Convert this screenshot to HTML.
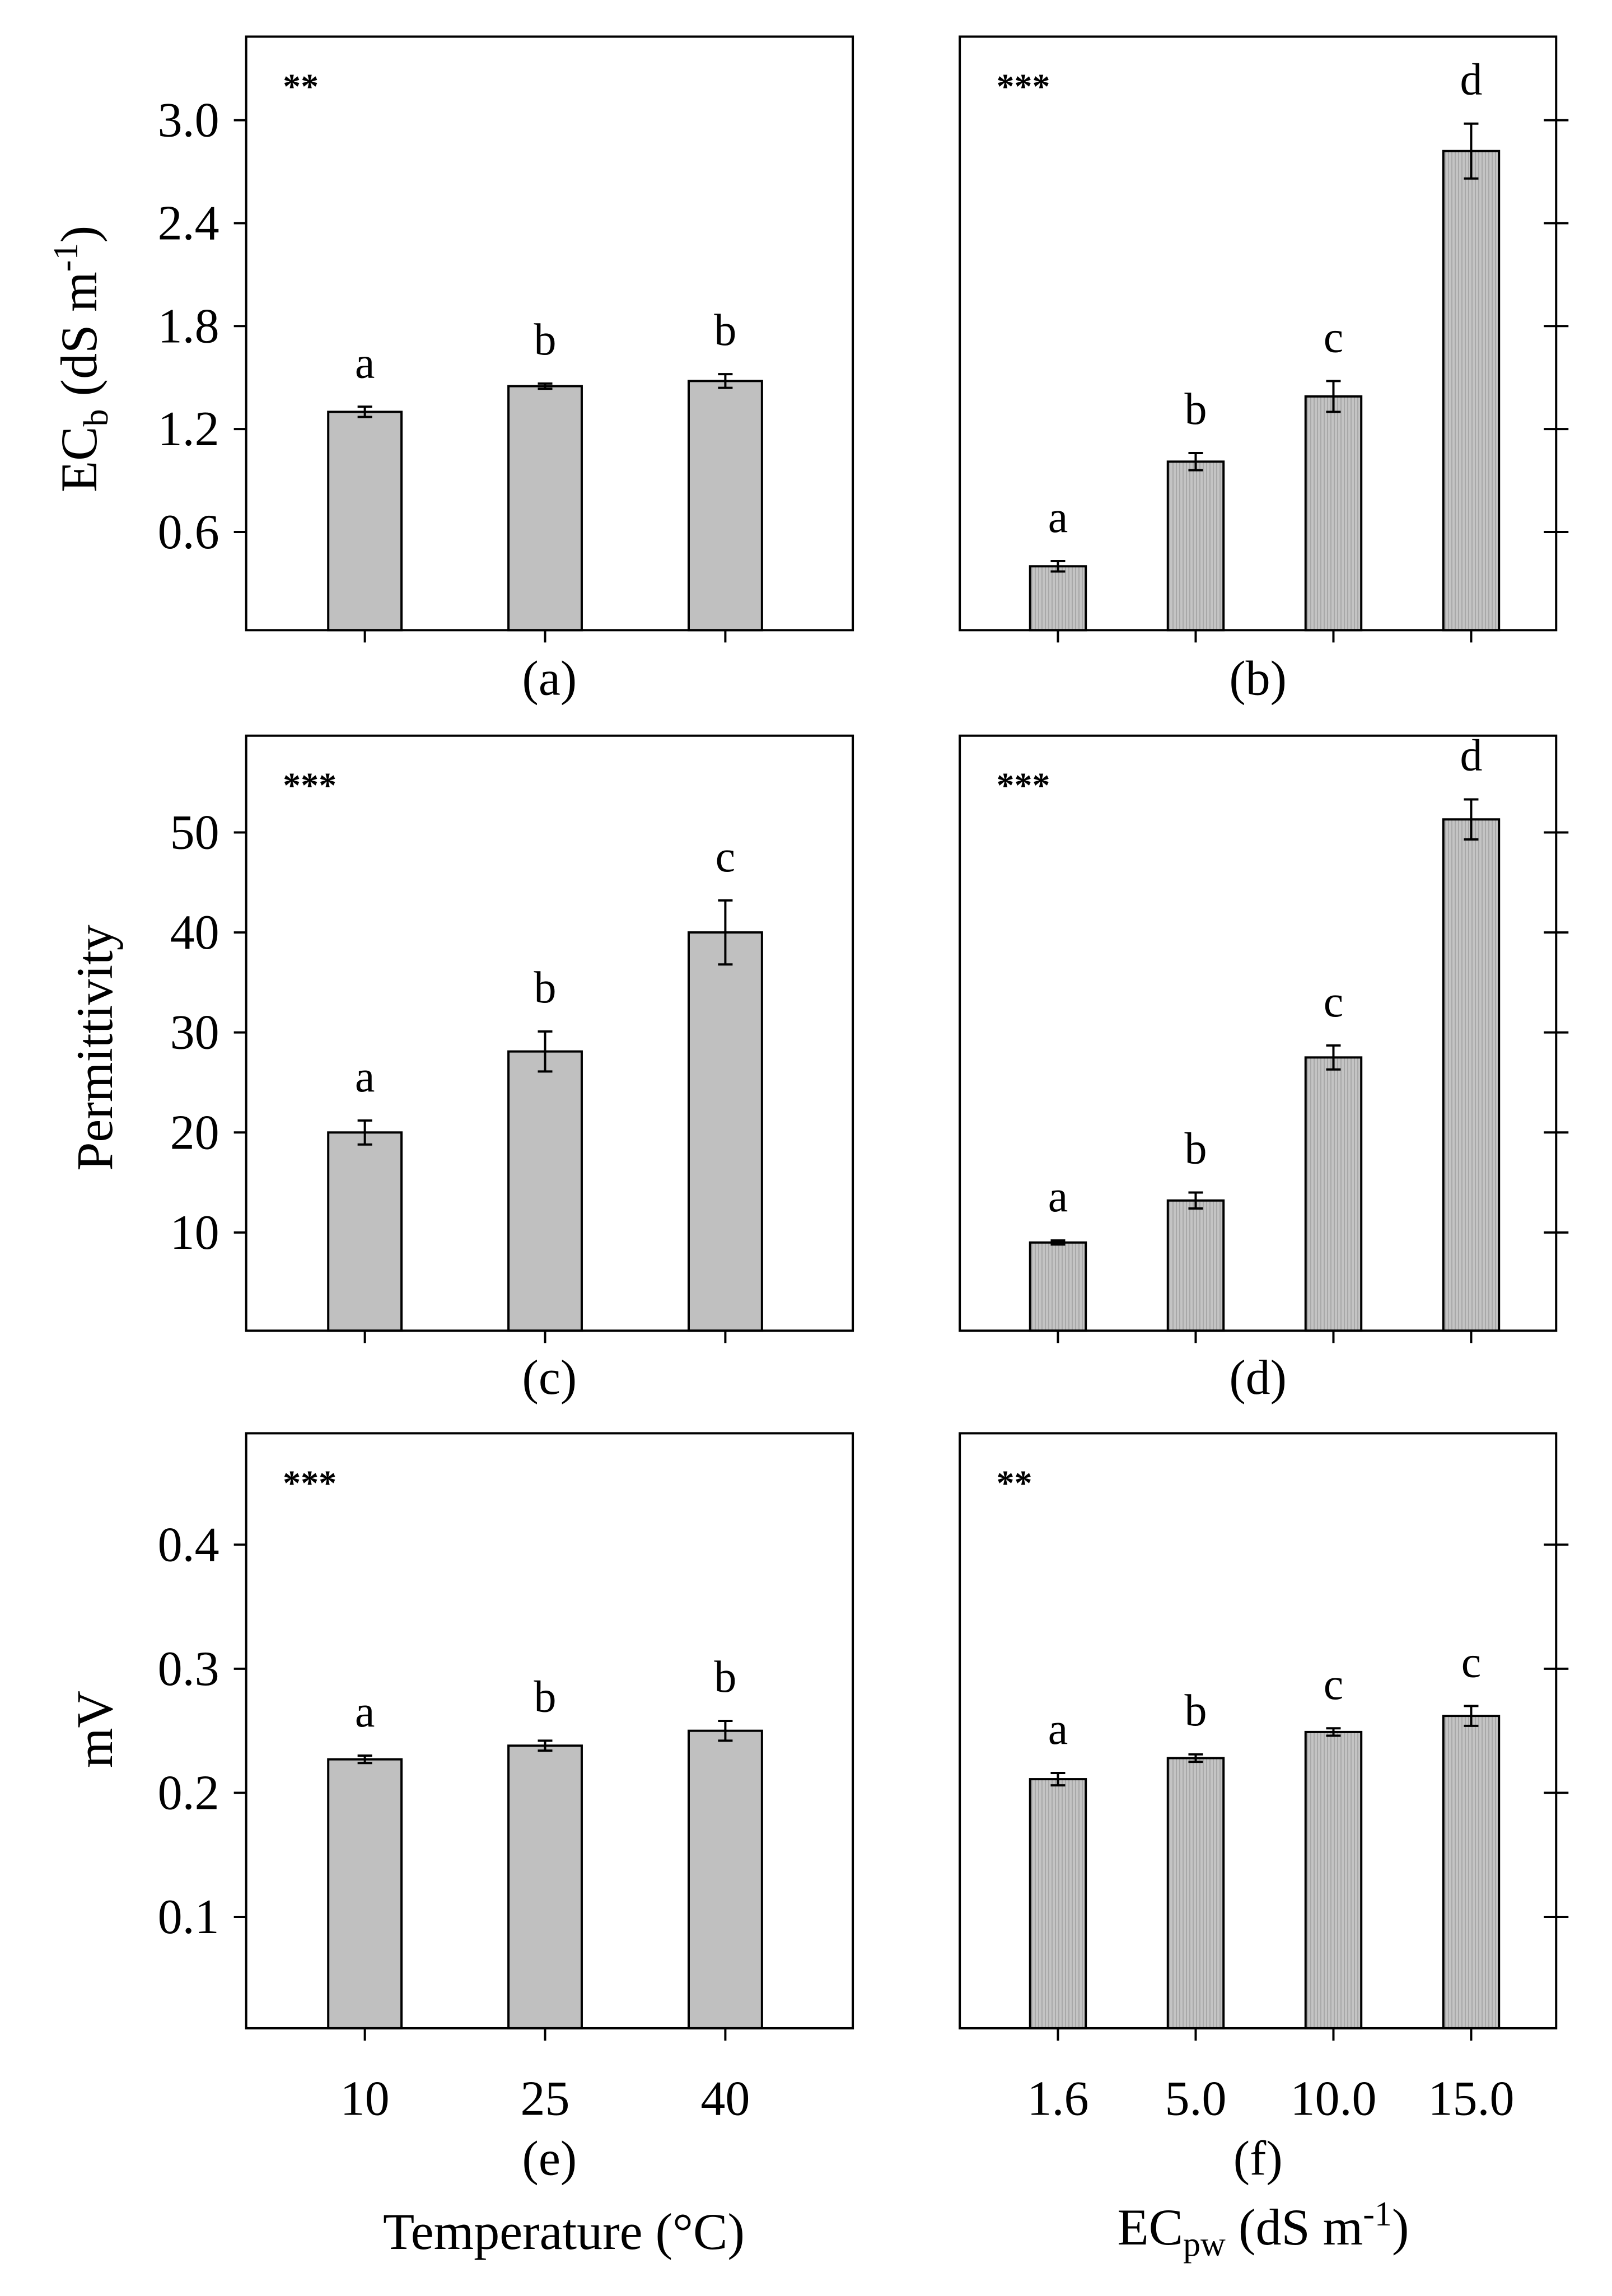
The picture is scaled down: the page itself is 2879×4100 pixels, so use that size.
<!DOCTYPE html>
<html><head><meta charset="utf-8"><style>
html,body{margin:0;padding:0;background:#fff}
svg{display:block}
text{font-family:"Liberation Serif",serif;fill:#000}
</style></head><body>
<svg id="fig" width="2879" height="4100" viewBox="0 0 2879 4100" xmlns="http://www.w3.org/2000/svg">
<defs>
<pattern id="hatch" width="6" height="10" patternUnits="userSpaceOnUse">
<rect width="6" height="10" fill="#c4c4c4"/><rect width="2" height="10" fill="#a8a8a8"/>
</pattern>
</defs>
</svg>
<script>
// data
const tempCats = ["10","25","40"];
const ecCats = ["1.6","5.0","10.0","15.0"];
const aVals = [1.30,1.45,1.48];   const aErr = [0.03,0.015,0.04];  const aLet = ["a","b","b"];
const bVals = [0.40,1.01,1.39,2.82]; const bErr = [0.03,0.05,0.09,0.16]; const bLet = ["a","b","c","d"];
const cVals = [20,28.1,40];       const cErr = [1.2,2.0,3.2];      const cLet = ["a","b","c"];
const dVals = [9.0,13.2,27.5,51.3]; const dErr = [0.2,0.8,1.2,2.0]; const dLet = ["a","b","c","d"];
const eVals = [0.227,0.238,0.250]; const eErr = [0.003,0.004,0.008]; const eLet = ["a","b","b"];
const fVals = [0.211,0.228,0.249,0.262]; const fErr = [0.005,0.003,0.003,0.008]; const fLet = ["a","b","c","c"];
const ecbTicks = [0.6,1.2,1.8,2.4,3.0];
const permTicks = [10,20,30,40,50];
const mvTicks = [0.1,0.2,0.3,0.4];

const S = 2.617;
const NS = "http://www.w3.org/2000/svg";
const svg = document.getElementById('fig');
function el(tag, attrs, parent){const e=document.createElementNS(NS,tag);for(const k in attrs)e.setAttribute(k,attrs[k]);(parent||svg).appendChild(e);return e;}

function panel(o){
  const g = el('g',{});
  
  
  const L=o.x0*S,R=o.x1*S,T=o.top*S,B=o.bot*S;
  const y = v => (o.t0y + (v - o.t0v)*(o.t1y-o.t0y)/(o.t1v-o.t0v))*S;
  const base = B;
  o.vals.forEach((v,i)=>{
    const cx=o.cx[i]*S, w=o.bw*S;
    const r=el('rect',{x:cx-w/2,y:y(v),width:w,height:base-y(v),fill:o.hatch?'url(#hatch)':'#c0c0c0',stroke:'#000','stroke-width':4},g);
    
    
    const e=o.err[i], hi=y(v+e), lo=y(v-e);
    const eb=el('path',{d:`M${cx},${hi}V${lo}M${cx-13},${hi}H${cx+13}M${cx-13},${lo}H${cx+13}`,stroke:'#000','stroke-width':4,fill:'none'},g);
    
    
    const t=el('text',{x:cx,y:hi-52,'font-size':80,'text-anchor':'middle'},g);
    t.textContent=o.lets[i];
    
    
    el('line',{x1:cx,x2:cx,y1:B,y2:B+22,stroke:'#000','stroke-width':4},g);
    if(o.xlabels){
      const xl=el('text',{x:cx,y:1443*S,'font-size':88,'text-anchor':'middle'},g);
      xl.textContent=o.cats[i];
      
      
    }
  });
  const f=el('rect',{x:L,y:T,width:R-L,height:B-T,fill:'none',stroke:'#000','stroke-width':4},g);
  
  
  o.ticks.forEach(tv=>{
    const ty=y(tv);
    if(o.left){
      el('line',{x1:L-22,x2:L,y1:ty,y2:ty,stroke:'#000','stroke-width':4},g);
      const tl=el('text',{x:L-48,y:ty+29,'font-size':88,'text-anchor':'end'},g);
      tl.textContent=o.fmt(tv);
      
      
    } else {
      el('line',{x1:R-22,x2:R+22,y1:ty,y2:ty,stroke:'#000','stroke-width':4},g);
    }
  });
  const st=el('text',{x:(o.x0+25)*S,y:(o.top+42)*S,'font-size':64,'font-weight':'bold'},g);
  st.textContent=o.stars;
  
  
  const pl=el('text',{x:(o.x0+o.x1)/2*S,y:o.plabY*S,'font-size':88,'text-anchor':'middle'},g);
  pl.textContent=o.plab;
  
  
}
const f1=v=>v.toFixed(1), f0=v=>String(v);
const lc=[249,372,495], rc=[722,816,910,1004];
panel({name:'panel-a',x0:168,x1:582,top:25,bot:430,cx:lc,bw:50,vals:aVals,err:aErr,lets:aLet,cats:tempCats,ticks:ecbTicks,t0v:0.6,t0y:363,t1v:3.0,t1y:82,left:true,fmt:f1,stars:'**',plab:'(a)',plabY:474});
panel({name:'panel-b',x0:655,x1:1062,top:25,bot:430,cx:rc,bw:38,vals:bVals,err:bErr,lets:bLet,cats:ecCats,ticks:ecbTicks,t0v:0.6,t0y:363,t1v:3.0,t1y:82,left:false,hatch:true,stars:'***',plab:'(b)',plabY:474});
panel({name:'panel-c',x0:168,x1:582,top:502,bot:908,cx:lc,bw:50,vals:cVals,err:cErr,lets:cLet,cats:tempCats,ticks:permTicks,t0v:10,t0y:841,t1v:50,t1y:568,left:true,fmt:f0,stars:'***',plab:'(c)',plabY:951});
panel({name:'panel-d',x0:655,x1:1062,top:502,bot:908,cx:rc,bw:38,vals:dVals,err:dErr,lets:dLet,cats:ecCats,ticks:permTicks,t0v:10,t0y:841,t1v:50,t1y:568,left:false,hatch:true,stars:'***',plab:'(d)',plabY:951});
panel({name:'panel-e',x0:168,x1:582,top:978,bot:1384,cx:lc,bw:50,vals:eVals,err:eErr,lets:eLet,cats:tempCats,ticks:mvTicks,t0v:0.1,t0y:1308,t1v:0.4,t1y:1054,left:true,fmt:f1,stars:'***',plab:'(e)',plabY:1484,xlabels:true});
panel({name:'panel-f',x0:655,x1:1062,top:978,bot:1384,cx:rc,bw:38,vals:fVals,err:fErr,lets:fLet,cats:ecCats,ticks:mvTicks,t0v:0.1,t0y:1308,t1v:0.4,t1y:1054,left:false,hatch:true,stars:'**',plab:'(f)',plabY:1484,xlabels:true});
</script>
<svg style="position:absolute;left:0;top:0" width="2879" height="4100" viewBox="0 0 2879 4100" xmlns="http://www.w3.org/2000/svg">
<text transform="translate(172,641) rotate(-90)" font-size="92" text-anchor="middle" font-family="Liberation Serif, serif">EC<tspan font-size="62" dy="20">b</tspan><tspan dy="-20"> (dS m</tspan><tspan font-size="62" dy="-34">-1</tspan><tspan dy="34">)</tspan></text>
<text transform="translate(200,1871) rotate(-90)" font-size="92" text-anchor="middle" font-family="Liberation Serif, serif">Permittivity</text>
<text transform="translate(200,3088) rotate(-90)" font-size="92" text-anchor="middle" font-family="Liberation Serif, serif">mV</text>
<text x="1007" y="4016" font-size="92" text-anchor="middle" font-family="Liberation Serif, serif">Temperature (°C)</text>
<text x="2256" y="4008" font-size="92" text-anchor="middle" font-family="Liberation Serif, serif">EC<tspan font-size="62" dy="20">pw</tspan><tspan dy="-20"> (dS m</tspan><tspan font-size="62" dy="-34">-1</tspan><tspan dy="34">)</tspan></text>
</svg>
</body></html>
